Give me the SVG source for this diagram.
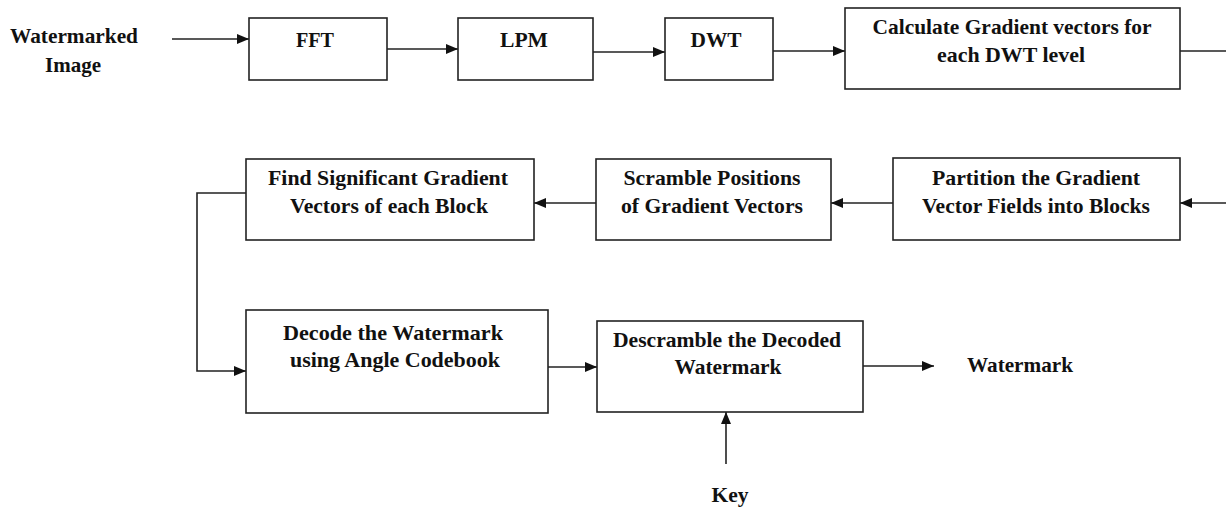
<svg xmlns="http://www.w3.org/2000/svg" width="1226" height="509" viewBox="0 0 1226 509">
<style>
  .box { fill: #fff; stroke: #222; stroke-width: 1.6; }
  .t { font-family: "Liberation Serif", "Times New Roman", serif; font-weight: bold; font-size: 21px; fill: #111; text-anchor: middle; }
  .c { fill: none; stroke: #222; stroke-width: 1.6; }
</style>
<defs>
  <marker id="ah" markerUnits="userSpaceOnUse" markerWidth="12" markerHeight="10" refX="12" refY="5" orient="auto">
    <path d="M0,0 L12,5 L0,10 z" fill="#111"/>
  </marker>
</defs>
<rect width="1226" height="509" fill="#fff"/>

<g id="connectors">
  <path class="c" d="M172,39 H249" marker-end="url(#ah)"/>
  <path class="c" d="M387,49 H458" marker-end="url(#ah)"/>
  <path class="c" d="M593,52 H665" marker-end="url(#ah)"/>
  <path class="c" d="M773,51 H845" marker-end="url(#ah)"/>
  <path class="c" d="M1180,51 H1226"/>
  <path class="c" d="M1226,203 H1180" marker-end="url(#ah)"/>
  <path class="c" d="M893,203 H831" marker-end="url(#ah)"/>
  <path class="c" d="M596,203 H534" marker-end="url(#ah)"/>
  <path class="c" d="M246,193 H197 V371 H246" marker-end="url(#ah)"/>
  <path class="c" d="M548,367 H597" marker-end="url(#ah)"/>
  <path class="c" d="M863,366 H934" marker-end="url(#ah)"/>
  <path class="c" d="M726,464 V412" marker-end="url(#ah)"/>
</g>

<g id="input">
  <text class="t" x="74" y="43" textLength="128" lengthAdjust="spacingAndGlyphs">Watermarked</text>
  <text class="t" x="73" y="72" textLength="56" lengthAdjust="spacingAndGlyphs">Image</text>
</g>

<g id="fft">
  <rect class="box" x="249" y="18" width="138" height="62"/>
  <text class="t" x="315" y="47" textLength="38" lengthAdjust="spacingAndGlyphs">FFT</text>
</g>

<g id="lpm">
  <rect class="box" x="458" y="18" width="135" height="62"/>
  <text class="t" x="524" y="47" textLength="48" lengthAdjust="spacingAndGlyphs">LPM</text>
</g>

<g id="dwt">
  <rect class="box" x="665" y="18" width="108" height="62"/>
  <text class="t" x="716" y="47" textLength="51" lengthAdjust="spacingAndGlyphs">DWT</text>
</g>

<g id="calc">
  <rect class="box" x="845" y="8" width="335" height="81"/>
  <text class="t" x="1012" y="34" textLength="279" lengthAdjust="spacingAndGlyphs">Calculate  Gradient vectors for</text>
  <text class="t" x="1011" y="62" textLength="148" lengthAdjust="spacingAndGlyphs">each DWT level</text>
</g>

<g id="partition">
  <rect class="box" x="893" y="158" width="287" height="82"/>
  <text class="t" x="1036" y="185" textLength="208" lengthAdjust="spacingAndGlyphs">Partition the Gradient</text>
  <text class="t" x="1036" y="213" textLength="228" lengthAdjust="spacingAndGlyphs">Vector Fields into Blocks</text>
</g>

<g id="scramble">
  <rect class="box" x="596" y="159" width="235" height="81"/>
  <text class="t" x="712" y="185" textLength="177" lengthAdjust="spacingAndGlyphs">Scramble Positions</text>
  <text class="t" x="712" y="213" textLength="182" lengthAdjust="spacingAndGlyphs">of Gradient Vectors</text>
</g>

<g id="find">
  <rect class="box" x="246" y="159" width="288" height="81"/>
  <text class="t" x="388" y="185" textLength="240" lengthAdjust="spacingAndGlyphs">Find Significant Gradient</text>
  <text class="t" x="389" y="213" textLength="198" lengthAdjust="spacingAndGlyphs">Vectors of each Block</text>
</g>

<g id="decode">
  <rect class="box" x="246" y="310" width="302" height="103"/>
  <text class="t" x="393" y="340" textLength="220" lengthAdjust="spacingAndGlyphs">Decode the Watermark</text>
  <text class="t" x="395" y="367" textLength="210" lengthAdjust="spacingAndGlyphs">using Angle Codebook</text>
</g>

<g id="descramble">
  <rect class="box" x="597" y="321" width="266" height="91"/>
  <text class="t" x="727" y="347" textLength="228" lengthAdjust="spacingAndGlyphs">Descramble the Decoded</text>
  <text class="t" x="728" y="374" textLength="107" lengthAdjust="spacingAndGlyphs">Watermark</text>
</g>

<g id="output">
  <text class="t" x="1020" y="372" textLength="106" lengthAdjust="spacingAndGlyphs">Watermark</text>
</g>

<g id="key">
  <text class="t" x="730" y="502" textLength="37" lengthAdjust="spacingAndGlyphs">Key</text>
</g>
</svg>
